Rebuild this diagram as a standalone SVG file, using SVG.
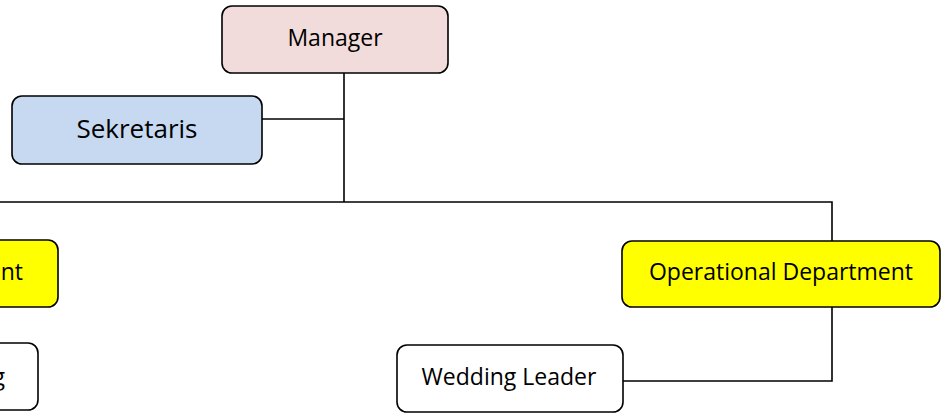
<svg xmlns="http://www.w3.org/2000/svg" width="942" height="414" viewBox="0 0 942 414">
<style>
.box{stroke:#000;stroke-width:1.6}
.t{font-family:"Open Sans","Liberation Sans",sans-serif;fill:#000;font-size:23px}
.c{fill:none;stroke:#000;stroke-width:1.6}
</style>
<rect width="942" height="414" fill="#fff"/>
<g id="connectors">
<path class="c" d="M344 73 V202"/>
<path class="c" d="M262 119 H344"/>
<path class="c" d="M0 202 H832 V241"/>
<path class="c" d="M832 307 V381 H623"/>
</g>
<g id="manager">
<rect class="box" x="222" y="6" width="226" height="67" rx="10" fill="#f2dcdb"/>
<text class="t" x="335" y="46" text-anchor="middle">Manager</text>
</g>
<g id="sekretaris">
<rect class="box" x="12" y="96" width="250" height="68" rx="10" fill="#c6d9f1"/>
<text class="t" x="137" y="138" text-anchor="middle" style="font-size:26px">Sekretaris</text>
</g>
<g id="left-department">
<rect class="box" x="-200" y="240" width="258" height="67" rx="10" fill="#ffff00"/>
<text class="t" x="23" y="280" text-anchor="end">nt</text>
</g>
<g id="left-child">
<rect class="box" x="-200" y="343" width="238" height="67" rx="10" fill="#fff"/>
<text class="t" x="5" y="385" text-anchor="end">g</text>
</g>
<g id="operational">
<rect class="box" x="622" y="241" width="318" height="66" rx="10" fill="#ffff00"/>
<text class="t" x="781" y="280" text-anchor="middle">Operational Department</text>
</g>
<g id="wedding-leader">
<rect class="box" x="397" y="345" width="226" height="67" rx="10" fill="#fff"/>
<text class="t" x="509" y="385" text-anchor="middle">Wedding Leader</text>
</g>
</svg>
